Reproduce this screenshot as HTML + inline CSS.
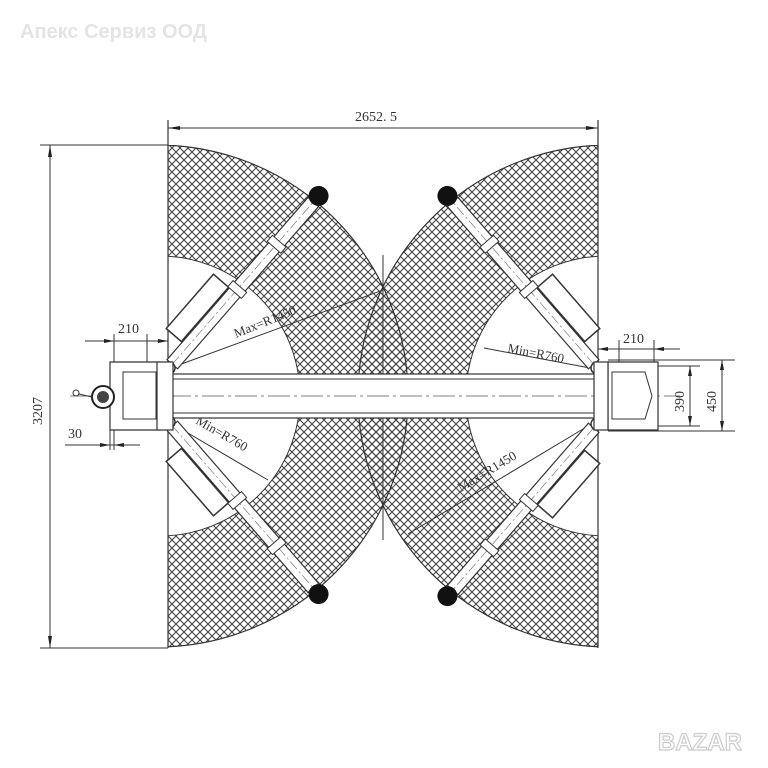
<!DOCTYPE html>
<html><head><meta charset="utf-8"><style>
html,body{margin:0;padding:0;background:#fff;width:768px;height:768px;overflow:hidden}
svg{display:block}
text{font-family:"Liberation Serif",serif;fill:#333}
</style></head><body>
<svg width="768" height="768" viewBox="0 0 768 768" xmlns="http://www.w3.org/2000/svg">
<defs>
<pattern id="h" width="8" height="8" patternUnits="userSpaceOnUse">
<path d="M0 0L8 8M8 0L0 8" stroke="#444" stroke-width="1.1"/>
</pattern>
<clipPath id="cl"><rect x="168" y="145" width="430" height="503"/></clipPath>
<g id="arm">
<rect x="5" y="-7" width="215" height="14" fill="#fff" stroke="#333" stroke-width="1.2"/>
<line x1="5" y1="0" x2="220" y2="0" stroke="#666" stroke-width="0.6" stroke-dasharray="10,3,2,3"/>
<rect x="28" y="-28" width="72" height="20" fill="#fff" stroke="#333" stroke-width="1.5"/>
<rect x="100" y="-9" width="8" height="18" fill="#fff" stroke="#333"/>
<rect x="160" y="-9" width="8" height="18" fill="#fff" stroke="#333"/>
<circle cx="0" cy="0" r="6" fill="#fff" stroke="#333" stroke-width="1.5"/>
<circle cx="0" cy="0" r="2.5" fill="#333"/>
<circle cx="228" cy="0" r="10" fill="#111"/>
</g>
</defs>

<text x="20" y="38" style="font-family:'Liberation Sans',sans-serif;font-size:20px;font-weight:bold;fill:#e4e4e4">Апекс Сервиз ООД</text>

<g clip-path="url(#cl)">
<path d="M157 145 A251 251 0 0 1 157 647 Z" fill="url(#h)"/>
<path d="M609 145 A251 251 0 0 0 609 647 Z" fill="url(#h)"/>
<path d="M157 145 A251 251 0 0 1 157 647" fill="none" stroke="#333" stroke-width="1.2"/>
<path d="M609 145 A251 251 0 0 0 609 647" fill="none" stroke="#333" stroke-width="1.2"/>
<circle cx="160" cy="396" r="140" fill="#fff" stroke="#333" stroke-width="1"/>
<circle cx="606" cy="396" r="140" fill="#fff" stroke="#333" stroke-width="1"/>
</g>
<line x1="168" y1="120" x2="168" y2="648" stroke="#333" stroke-width="1.2"/>
<line x1="598" y1="120" x2="598" y2="648" stroke="#333" stroke-width="1.2"/>
<line x1="383" y1="255" x2="383" y2="540" stroke="#333" stroke-width="1"/>

<line x1="176" y1="366" x2="383" y2="290" stroke="#333" stroke-width="1"/>
<line x1="176" y1="426" x2="268" y2="480" stroke="#333" stroke-width="1"/>
<line x1="590" y1="368" x2="484" y2="348" stroke="#333" stroke-width="1"/>
<line x1="588" y1="426" x2="408" y2="534" stroke="#333" stroke-width="1"/>
<text x="0" y="0" font-size="13" transform="translate(236 338) rotate(-22)">Max=R1450</text>
<text x="0" y="0" font-size="13" transform="translate(195 423) rotate(30)">Min=R760</text>
<text x="0" y="0" font-size="13" transform="translate(507 352) rotate(11)">Min=R760</text>
<text x="0" y="0" font-size="13" transform="translate(461 492) rotate(-31)">Max=R1450</text>

<rect x="168" y="374" width="430" height="44" fill="#fff" stroke="#333" stroke-width="1.2"/>
<line x1="168" y1="379" x2="598" y2="379" stroke="#333"/>
<line x1="168" y1="413" x2="598" y2="413" stroke="#333"/>
<line x1="70" y1="396" x2="680" y2="396" stroke="#555" stroke-width="0.7" stroke-dasharray="22,4,3,4"/>

<use href="#arm" transform="translate(169 368) rotate(-49)"/>
<use href="#arm" transform="translate(169 422) rotate(49) scale(1,-1)"/>
<use href="#arm" transform="translate(597 368) rotate(-131) scale(1,-1)"/>
<use href="#arm" transform="translate(597 424) rotate(131)"/>

<path d="M110 362 H160 V430 H110 Z" fill="#fff" stroke="#333" stroke-width="1.2"/>
<rect x="123" y="372" width="33" height="47" fill="#fff" stroke="#333"/>
<rect x="157" y="362" width="16" height="68" fill="#fff" stroke="#333" stroke-width="1.2"/>
<circle cx="103" cy="397" r="11" fill="#fff" stroke="#222" stroke-width="2"/>
<circle cx="103" cy="397" r="6" fill="#444"/>
<circle cx="76" cy="393" r="3" fill="#fff" stroke="#333"/>
<line x1="79" y1="394" x2="92" y2="397" stroke="#333"/>
<path d="M608 362 H658 V430 H608 Z" fill="#fff" stroke="#333" stroke-width="1.2"/>
<path d="M612 372 H645 L652 396 L645 419 H612 Z" fill="#fff" stroke="#333"/>
<rect x="594" y="362" width="14" height="68" fill="#fff" stroke="#333" stroke-width="1.2"/>

<g stroke="#333" stroke-width="1" fill="none">
<line x1="168" y1="128" x2="598" y2="128"/>
<line x1="50" y1="145" x2="50" y2="648"/>
<line x1="40" y1="145" x2="168" y2="145"/>
<line x1="40" y1="648" x2="168" y2="648"/>
<line x1="85" y1="341" x2="168" y2="341"/>
<line x1="114" y1="334" x2="114" y2="362"/>
<line x1="147" y1="334" x2="147" y2="362"/>
<line x1="598" y1="349" x2="680" y2="349"/>
<line x1="619" y1="340" x2="619" y2="362"/>
<line x1="654" y1="340" x2="654" y2="362"/>
<line x1="608" y1="360" x2="735" y2="360"/>
<line x1="608" y1="431" x2="735" y2="431"/>
<line x1="658" y1="366" x2="700" y2="366"/>
<line x1="658" y1="426" x2="700" y2="426"/>
<line x1="690" y1="366" x2="690" y2="426"/>
<line x1="722" y1="360" x2="722" y2="431"/>
<line x1="65" y1="445" x2="140" y2="445"/>
<line x1="110" y1="430" x2="110" y2="450"/>
<line x1="114" y1="430" x2="114" y2="450"/>
</g>
<g fill="#222">
<path d="M168 128 l12 -2 v4z"/><path d="M598 128 l-12 -2 v4z"/>
<path d="M50 145 l-2 12 h4z"/><path d="M50 648 l-2 -12 h4z"/>
<path d="M690 366 l-2 10 h4z"/><path d="M690 426 l-2 -10 h4z"/>
<path d="M722 360 l-2 10 h4z"/><path d="M722 431 l-2 -10 h4z"/>
<path d="M114 341 l-10 -2 v4z"/><path d="M168 341 l-10 -2 v4z"/>
<path d="M598 349 l10 -2 v4z"/><path d="M654 349 l10 -2 v4z"/>
<path d="M110 445 l-10 -2 v4z"/><path d="M114 445 l10 -2 v4z"/>
</g>
<text x="355" y="121" font-size="14">2652. 5</text>
<text x="0" y="0" font-size="14" transform="translate(42 425) rotate(-90)">3207</text>
<text x="118" y="333" font-size="14">210</text>
<text x="623" y="343" font-size="14">210</text>
<text x="68" y="438" font-size="14">30</text>
<text x="0" y="0" font-size="14" transform="translate(684 412) rotate(-90)">390</text>
<text x="0" y="0" font-size="14" transform="translate(716 412) rotate(-90)">450</text>

<text x="658" y="750" style="font-family:'Liberation Sans',sans-serif;font-size:24px;font-weight:bold;fill:#fff;stroke:#ccc;stroke-width:1.2">BAZAR</text>
</svg>
</body></html>
